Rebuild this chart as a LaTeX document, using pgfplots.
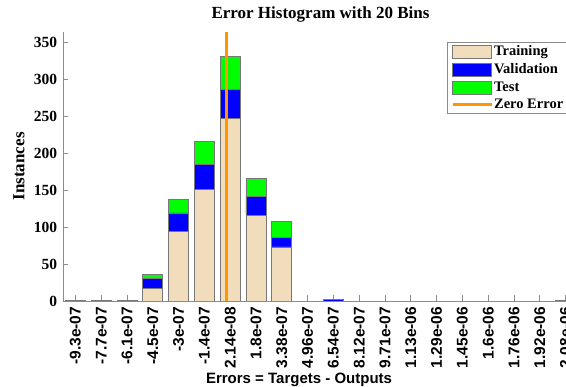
\documentclass[border=0pt]{standalone}
\usepackage{fontspec}
\setmainfont{Liberation Serif}
\newfontfamily\arialfont{Liberation Sans}
\usepackage{pgfplots}
\pgfplotsset{compat=1.18}
\definecolor{train}{RGB}{241,221,188}
\definecolor{valid}{RGB}{0,0,255}
\definecolor{testc}{RGB}{0,255,0}
\definecolor{zeroc}{RGB}{255,150,0}
\definecolor{axgray}{RGB}{140,140,140}
\definecolor{edgegray}{RGB}{120,120,120}
\pgfplotsset{
  mybarlegend/.style={legend image code/.code={\draw[##1] (0pt,-6.5pt) rectangle (39pt,6.5pt);}},
  mylinelegend/.style={legend image code/.code={\draw[##1] (0pt,0pt) -- (39pt,0pt);}},
  myaxis/.style={
    scale only axis, width=515pt, height=269.3pt,
    at={(63pt,86pt)}, anchor=south west,
    xmin=0.52, xmax=20.48, ymin=0, ymax=364,
  },
}

\begin{document}
\begin{tikzpicture}
\useasboundingbox (0pt,0pt) rectangle (566pt,387pt);
\clip (0pt,0pt) rectangle (566pt,387pt);
\begin{axis}[myaxis,
  ybar stacked, bar width=0.775,
  axis lines=left, axis line style={-, axgray, line width=0.8pt},
  tick style={axgray, line width=0.8pt}, tick align=inside, major tick length=5.5pt,
  xtick={1,...,20},
  xticklabels={-9.3e-07,-7.7e-07,-6.1e-07,-4.5e-07,-3e-07,-1.4e-07,2.14e-08,1.8e-07,3.38e-07,4.96e-07,6.54e-07,8.12e-07,9.71e-07,1.13e-06,1.29e-06,1.45e-06,1.6e-06,1.76e-06,1.92e-06,2.08e-06},
  xticklabel style={font=\arialfont\bfseries\fontsize{15.5}{17}\selectfont, rotate=90, anchor=east, inner xsep=5.7pt, inner ysep=0pt},
  ytick={0,50,...,350},
  /pgf/number format/assume math mode=true,
  yticklabel style={font=\bfseries\fontsize{15.5}{18}\selectfont, anchor=east, inner xsep=5.7pt, inner ysep=0pt},
  ylabel={Instances},
  ylabel style={font=\bfseries\fontsize{17}{20}\selectfont, at={(axis description cs:-0.0854,0.5)}, anchor=center},
  xlabel={Errors = Targets - Outputs},
  xlabel style={font=\arialfont\bfseries\fontsize{15}{18}\selectfont, at={(axis description cs:0.4583,-0.3056)}, anchor=base},
  title={Error Histogram with 20 Bins},
  title style={font=\bfseries\fontsize{17}{20}\selectfont, at={(axis description cs:0.5,1)}, anchor=base, yshift=7.4pt},
  legend style={at={(axis description cs:0.746,0.9606)}, anchor=north west, draw=axgray, line width=0.8pt,
    font=\bfseries\fontsize{14.5}{16}\selectfont, inner xsep=3.5pt, inner ysep=2pt, row sep=4pt,
    nodes={inner sep=1pt}},
  legend cell align=left,
]
\addplot[fill=train, draw=edgegray, line width=0.9pt, mybarlegend]
  coordinates {(1,1) (2,0) (3,1) (4,17) (5,94) (6,151) (7,247) (8,116) (9,73) (11,0) (20,1)};
\addlegendentry{Training}
\addplot[fill=valid, draw=edgegray, line width=0.9pt, mybarlegend]
  coordinates {(1,0) (2,0) (3,0) (4,13) (5,25) (6,34) (7,39) (8,25) (9,13) (11,2) (20,0)};
\addlegendentry{Validation}
\addplot[fill=testc, draw=edgegray, line width=0.9pt, mybarlegend]
  coordinates {(1,0) (2,1) (3,0) (4,6) (5,18) (6,31) (7,44) (8,24) (9,22) (11,0) (20,0)};
\addlegendentry{Test}
\addlegendimage{zeroc, line width=3pt, mylinelegend}
\addlegendentry{Zero Error}
\end{axis}
\begin{axis}[myaxis, hide axis]
\addplot[zeroc, line width=3pt] coordinates {(6.865,0) (6.865,364)};
\end{axis}
\end{tikzpicture}
\end{document}
